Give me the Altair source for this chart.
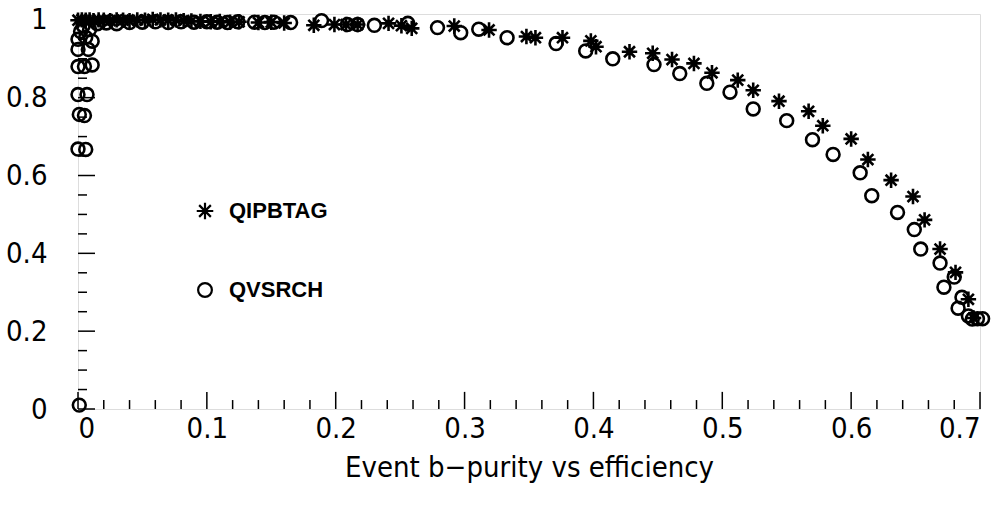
import altair as alt
import pandas as pd

# QIPBTAG (asterisks): efficiency, purity
qip_x = [0.000, 0.003, 0.006, 0.009, 0.012, 0.016, 0.020, 0.025, 0.030, 0.035, 0.040, 0.046,
         0.052, 0.058, 0.064, 0.070, 0.076, 0.082, 0.088, 0.095, 0.103, 0.110, 0.118, 0.125,
         0.140, 0.150, 0.160, 0.183, 0.199, 0.208, 0.217, 0.241, 0.251, 0.259, 0.292, 0.319,
         0.348, 0.355, 0.376, 0.398, 0.402, 0.428, 0.446, 0.461, 0.478, 0.492, 0.512, 0.524,
         0.544, 0.567, 0.578, 0.600, 0.613, 0.631, 0.648, 0.657, 0.669, 0.681, 0.691, 0.695]
qip_y = [0.999, 1.000, 0.999, 1.000, 0.998, 1.000, 0.999, 0.998, 1.000, 0.999, 0.998, 1.000,
         0.999, 1.001, 1.000, 0.999, 1.000, 0.998, 0.997, 0.996, 0.995, 0.996, 0.994, 0.995,
         0.993, 0.994, 0.992, 0.986, 0.988, 0.988, 0.988, 0.991, 0.985, 0.978, 0.984, 0.974,
         0.957, 0.954, 0.954, 0.946, 0.931, 0.918, 0.914, 0.898, 0.888, 0.864, 0.845, 0.819,
         0.791, 0.765, 0.728, 0.694, 0.641, 0.588, 0.546, 0.486, 0.411, 0.351, 0.282, 0.234]

# QVSRCH (open circles): efficiency, purity
qvs_x = [0.001, 0.000, 0.006, 0.001, 0.005, 0.000, 0.007, 0.000, 0.005, 0.011, 0.000, 0.008,
         0.000, 0.006, 0.011, 0.002, 0.009, 0.004, 0.015, 0.022, 0.030, 0.040, 0.050, 0.060,
         0.070, 0.080, 0.090, 0.100, 0.108, 0.116, 0.124, 0.137, 0.145, 0.152, 0.165, 0.189,
         0.209, 0.217, 0.230, 0.256, 0.279, 0.297, 0.311, 0.333, 0.371, 0.394, 0.415, 0.447,
         0.467, 0.488, 0.506, 0.524, 0.550, 0.570, 0.586, 0.607, 0.616, 0.636, 0.649, 0.654,
         0.669, 0.672, 0.680, 0.683, 0.686, 0.691, 0.694, 0.698, 0.702]
qvs_y = [0.010, 0.668, 0.667, 0.757, 0.754, 0.808, 0.808, 0.880, 0.880, 0.884, 0.924, 0.924,
         0.950, 0.955, 0.945, 0.970, 0.975, 0.985, 0.990, 0.992, 0.990, 0.993, 0.994, 0.995,
         0.993, 0.995, 0.994, 0.995, 0.994, 0.993, 0.995, 0.994, 0.993, 0.994, 0.993, 0.998,
         0.988, 0.988, 0.986, 0.991, 0.980, 0.967, 0.976, 0.954, 0.939, 0.920, 0.900, 0.885,
         0.862, 0.837, 0.814, 0.771, 0.741, 0.692, 0.654, 0.607, 0.548, 0.505, 0.461, 0.411,
         0.375, 0.313, 0.339, 0.259, 0.287, 0.239, 0.231, 0.232, 0.232]

series_names = ["QIPBTAG", "QVSRCH"]

x_major = [0.0, 0.1, 0.2, 0.3, 0.4, 0.5, 0.6, 0.7]
x_minor = [round(i * 0.02, 2) for i in range(36) if i % 5 != 0]
y_major = [0.0, 0.2, 0.4, 0.6, 0.8, 1.0]
y_minor = [round(i * 0.05, 2) for i in range(21) if i % 4 != 0]

df = pd.concat([
    pd.DataFrame({"eff": qip_x, "pur": qip_y, "series": series_names[0]}),
    pd.DataFrame({"eff": qvs_x, "pur": qvs_y, "series": series_names[1]}),
])

X_DOM = [0, 0.7]
Y_DOM = [0, 1.015]
W, H = 902, 395
FONT = "'DejaVu Sans Condensed', 'Liberation Sans Narrow', 'Roboto Condensed', 'Liberation Sans', sans-serif"
LFONT = "'Liberation Sans', Arial, sans-serif"

xs = alt.Scale(domain=X_DOM, nice=False, zero=False)
ys = alt.Scale(domain=Y_DOM, nice=False, zero=False)

STAR = "M-1.2,0L1.2,0M0,-1.2L0,1.2M-0.85,-0.85L0.85,0.85M-0.85,0.85L0.85,-0.85"

points = alt.Chart(df).mark_point(filled=False, strokeWidth=2.6, opacity=1, size=165).encode(
    x=alt.X("eff:Q", scale=xs,
            axis=alt.Axis(values=x_major, format="~g", ticks=False, domain=False, grid=False,
                          labelFont=FONT, labelFontSize=29, labelColor="black", labelPadding=5,
                          title="Event b\u2212purity vs efficiency", titleFont=FONT,
                          titleFontSize=29, titleFontWeight="normal", titleColor="black",
                          titlePadding=10)),
    y=alt.Y("pur:Q", scale=ys,
            axis=alt.Axis(values=y_major, format="~g", ticks=False, domain=False, grid=False,
                          labelFont=FONT, labelFontSize=29, labelColor="black", labelPadding=31,
                          title=None)),
    shape=alt.Shape("series:N",
                    scale=alt.Scale(domain=series_names, range=[STAR, "circle"]),
                    legend=alt.Legend(title=None, orient="none", legendX=116, legendY=186,
                                      direction="vertical", rowPadding=54, padding=0,
                                      labelFont=LFONT, labelFontSize=22, labelFontWeight="bold",
                                      labelColor="black", labelOffset=13,
                                      symbolSize=190, symbolStrokeWidth=2.2,
                                      symbolStrokeColor="black", symbolFillColor="white")),
    color=alt.value("black"),
)

TX_MAJ, TX_MIN = 0.044, 0.023
TY_MAJ, TY_MIN = 0.0132, 0.007

def xticks(vals, length):
    d = pd.DataFrame({"v": vals, "a": 0.0, "b": length})
    return alt.Chart(d).mark_rule(color="black", strokeWidth=1.5).encode(
        x=alt.X("v:Q", scale=xs), y=alt.Y("a:Q", scale=ys), y2="b:Q")

def yticks(vals, length):
    d = pd.DataFrame({"v": vals, "a": 0.0, "b": length})
    return alt.Chart(d).mark_rule(color="black", strokeWidth=1.5).encode(
        y=alt.Y("v:Q", scale=ys), x=alt.X("a:Q", scale=xs), x2="b:Q")

chart = alt.layer(
    xticks(x_major, TX_MAJ), xticks(x_minor, TX_MIN),
    yticks(y_major, TY_MAJ), yticks(y_minor, TY_MIN),
    points,
).properties(
    width=W, height=H,
    autosize=alt.AutoSizeParams(type="none"),
    padding={"left": 78, "top": 14, "right": 28, "bottom": 97},
).configure_view(stroke="black", strokeWidth=2).configure(background="white")

chart.save("out.html", embed_options={"renderer": "svg", "actions": False})
